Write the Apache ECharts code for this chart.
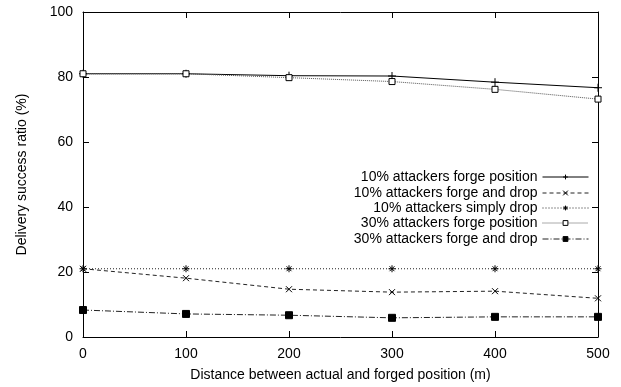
<!DOCTYPE html>
<html>
<head>
<meta charset="utf-8">
<script src="https://cdn.jsdelivr.net/npm/echarts@6/dist/echarts.min.js"></script>
<style>
html,body{margin:0;padding:0;background:#fff;}
#chart{width:621px;height:387px;}
</style>
</head>
<body>
<div id="chart"></div>
<script>
var distances = [0, 100, 200, 300, 400, 500];
var names = [
  "10% attackers forge position",
  "10% attackers forge and drop",
  "10% attackers simply drop",
  "30% attackers forge position",
  "30% attackers forge and drop"
];
var forgePos10 = [81.0, 81.0, 80.4, 80.3, 78.4, 76.7];
var forgeDrop10 = [21.0, 18.1, 14.7, 13.8, 14.1, 11.9];
var simplyDrop10 = [21.0, 21.0, 21.0, 21.0, 21.0, 21.0];
var forgePos30 = [81.0, 81.0, 79.8, 78.6, 76.2, 73.2];
var forgeDrop30 = [8.3, 7.1, 6.7, 5.9, 6.2, 6.2];
var xTicks = [0, 100, 200, 300, 400, 500];
var yTicks = [0, 20, 40, 60, 80, 100];

var FONT = "'Liberation Sans', Arial, Helvetica, sans-serif";
var SYM_PLUS = 'path://M0,5L10,5M5,0L5,10';
var SYM_CROSS = 'path://M0,0L10,10M0,10L10,0';
var SYM_STAR = 'path://M0,5L10,5M5,0L5,10M1.5,1.5L8.5,8.5M1.5,8.5L8.5,1.5';

function pts(arr){ return distances.map(function(d,i){ return [d, arr[i]]; }); }

var seriesDefs = [
  {data: forgePos10, symbol: SYM_PLUS, size: 8, type: 'solid', color: '#000', fill: 'none'},
  {data: forgeDrop10, symbol: SYM_CROSS, size: 6, type: [4,3], color: '#222', fill: 'none'},
  {data: simplyDrop10, symbol: SYM_STAR, size: 7, type: [1,2], color: '#222', fill: 'none'},
  {data: forgePos30, symbol: 'rect', size: 6, type: [1,1], color: '#555', fill: '#fff'},
  {data: forgeDrop30, symbol: 'rect', size: 7, type: [6,2,1,2], color: '#222', fill: '#000'}
];

var series = seriesDefs.map(function(s, i){
  return {
    name: names[i],
    type: 'line',
    data: pts(s.data),
    symbol: s.symbol,
    symbolSize: s.size,
    showAllSymbol: true,
    animation: false,
    lineStyle: {color: s.color, width: 1, type: s.type},
    itemStyle: {color: s.fill, borderColor: '#000', borderWidth: 1},
    emphasis: {disabled: true}
  };
});

var rowTops = [170, 186, 201, 216, 232];
var legends = names.map(function(n, i){
  return {
    data: [n],
    right: 32,
    top: rowTops[i],
    orient: 'horizontal',
    align: 'right',
    itemWidth: 46,
    itemHeight: 6,
    itemGap: 6,
    padding: 0,
    selectedMode: false,
    lineStyle: {width: 1},
    itemStyle: {borderWidth: 1},
    textStyle: {fontFamily: FONT, fontSize: 14, color: '#000', padding: [0, 0, 0, 0]}
  };
});

var axisLbl = {fontFamily: FONT, fontSize: 14, color: '#000'};
var lineAx = {show: true, onZero: false, lineStyle: {color: '#000', width: 1}};
var tickAx = {show: true, inside: true, length: 6, lineStyle: {color: '#000'}};
var chart = echarts.init(document.getElementById('chart'), null, {renderer: 'canvas'});
chart.setOption({
  animation: false,
  backgroundColor: '#fff',
  grid: {left: 83, right: 23, top: 12, bottom: 50, containLabel: false},
  legend: legends,
  xAxis: [{
    type: 'value', min: 0, max: 500, interval: 100, position: 'bottom',
    name: 'Distance between actual and forged position (m)',
    nameLocation: 'middle', nameGap: 31,
    nameTextStyle: {fontFamily: FONT, fontSize: 14, color: '#000'},
    axisLine: lineAx, axisTick: tickAx,
    axisLabel: Object.assign({margin: 10}, axisLbl),
    splitLine: {show: false}
  }, {
    type: 'value', min: 0, max: 500, interval: 100, position: 'top',
    axisLine: lineAx, axisTick: tickAx,
    axisLabel: {show: false}, splitLine: {show: false}
  }],
  yAxis: [{
    type: 'value', min: 0, max: 100, interval: 20, position: 'left',
    name: 'Delivery success ratio (%)',
    nameLocation: 'middle', nameGap: 54, nameRotate: 90,
    nameTextStyle: {fontFamily: FONT, fontSize: 14, color: '#000'},
    axisLine: lineAx, axisTick: tickAx,
    axisLabel: Object.assign({margin: 10}, axisLbl),
    splitLine: {show: false}
  }, {
    type: 'value', min: 0, max: 100, interval: 20, position: 'right',
    axisLine: lineAx, axisTick: tickAx,
    axisLabel: {show: false}, splitLine: {show: false}
  }],
  series: series
});
</script>
</body>
</html>
